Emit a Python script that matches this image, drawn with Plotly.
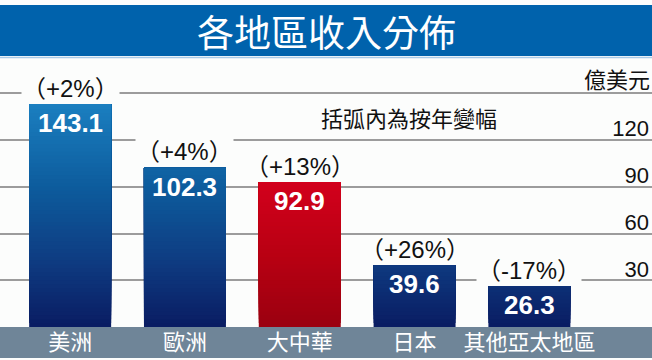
import plotly.graph_objects as go
import numpy as np

# ---- data ----
categories = ["美洲", "歐洲", "大中華", "日本", "其他亞太地區"]
revenue = [143.1, 102.3, 92.9, 39.6, 26.3]          # 億美元
yoy_change = ["（+2%）", "（+4%）", "（+13%）", "（+26%）", "（-17%）"]
highlight = [False, False, True, False, False]
y_tickvals = [30, 60, 90, 120, 150]
y_ticktext = ["30", "60", "90", "120", ""]
title_text = "各地區收入分佈"
unit_text = "億美元"
note_text = "括弧內為按年變幅"

BG = "#FCFDFC"
CJK = "Noto Sans CJK TC"
LAT = "Liberation Sans, Arial, Noto Sans CJK TC"

def lerp_color(stops, v):
    if v <= stops[0][0]:
        c = stops[0][1]
    elif v >= stops[-1][0]:
        c = stops[-1][1]
    else:
        for (v0, c0), (v1, c1) in zip(stops[:-1], stops[1:]):
            if v0 <= v <= v1:
                t = (v - v0) / (v1 - v0)
                c = tuple(a + (b - a) * t for a, b in zip(c0, c1))
                break
    return "rgb(%d,%d,%d)" % tuple(int(round(x)) for x in c)

blue_stops = [(0, (10, 28, 98)), (40, (14, 58, 128)), (90, (13, 92, 157)), (145, (27, 128, 193))]
red_stops = [(0, (154, 0, 16)), (45, (184, 0, 18)), (93, (210, 0, 28))]

fig = go.Figure()

step = 2.5
n_slices = int(np.ceil(max(revenue) / step))
bar_w = 0.714
for k in range(n_slices):
    base = k * step
    heights = [max(0.0, v - base) for v in revenue]
    mid = base + step / 2
    colors = [lerp_color(red_stops if h else blue_stops, mid) for h in highlight]
    fig.add_trace(go.Bar(
        x=categories, y=heights, base=[base] * len(categories),
        width=bar_w, marker=dict(color=colors, line=dict(width=0)),
        hoverinfo="skip", showlegend=False,
    ))

annotations = []
for c, v, p in zip(categories, revenue, yoy_change):
    annotations.append(dict(
        x=c, y=v, xref="x", yref="y", text="<b>%.1f</b>" % v,
        showarrow=False, yshift=-19, yanchor="middle",
        font=dict(family=LAT, size=26, color="white"),
    ))
    annotations.append(dict(
        x=c, y=v, xref="x", yref="y", text=p,
        showarrow=False, yshift=16, yanchor="middle",
        bgcolor=BG, borderpad=0,
        font=dict(family=LAT, size=24, color="#111111"),
    ))

annotations.append(dict(
    x=0.5, y=(327 - 31) / 327, xref="paper", yref="paper", text=title_text,
    showarrow=False, xanchor="center", yanchor="middle",
    font=dict(family=CJK, size=37, color="white"),
))
annotations.append(dict(
    x=1.0, y=(327 - 78) / 327, xref="paper", yref="paper", text=unit_text,
    showarrow=False, xanchor="right", yanchor="middle",
    font=dict(family=CJK, size=22, color="#111111"),
))
annotations.append(dict(
    x=409 / 652, y=(327 - 117) / 327, xref="paper", yref="paper", text=note_text,
    showarrow=False, xanchor="center", yanchor="middle",
    font=dict(family=CJK, size=22, color="#111111"),
))

shapes = [
    dict(type="rect", xref="paper", yref="paper", x0=0, x1=1,
         y0=(327 - 56) / 327, y1=(327 - 5) / 327,
         fillcolor="#0062AC", line=dict(width=0), layer="below"),
    dict(type="line", xref="paper", yref="paper", x0=0, x1=1,
         y0=(327 - 57.5) / 327, y1=(327 - 57.5) / 327,
         line=dict(color="#A8CBE8", width=1.5), layer="below"),
    dict(type="rect", xref="paper", yref="paper", x0=0, x1=1,
         y0=-31 / 327, y1=0,
         fillcolor="#6F8598", line=dict(width=0), layer="below"),
]

fig.update_layout(
    width=652, height=360,
    margin=dict(l=0, r=0, t=0, b=33),
    paper_bgcolor=BG, plot_bgcolor=BG,
    barmode="overlay",
    showlegend=False,
    annotations=annotations,
    shapes=shapes,
    xaxis=dict(
        type="category", categoryorder="array", categoryarray=categories,
        range=[-0.611, 5.068], showgrid=False, zeroline=False, showline=False,
        ticks="", tickfont=dict(family=CJK, size=22, color="white"),
        fixedrange=True,
    ),
    yaxis=dict(
        range=[0, 210], side="right", tickvals=y_tickvals, ticktext=y_ticktext,
        showgrid=True, gridcolor="#9C9C9C", gridwidth=1.5,
        zeroline=False, showline=False, ticks="",
        ticklabelposition="inside top", ticklabelshift=4,
        tickfont=dict(family=LAT, size=22, color="#111111"),
        fixedrange=True,
    ),
)

fig.write_html(
    "out.html",
    config={"displayModeBar": False},
    post_script="document.body.style.margin='0';document.body.style.overflow='hidden';",
)
